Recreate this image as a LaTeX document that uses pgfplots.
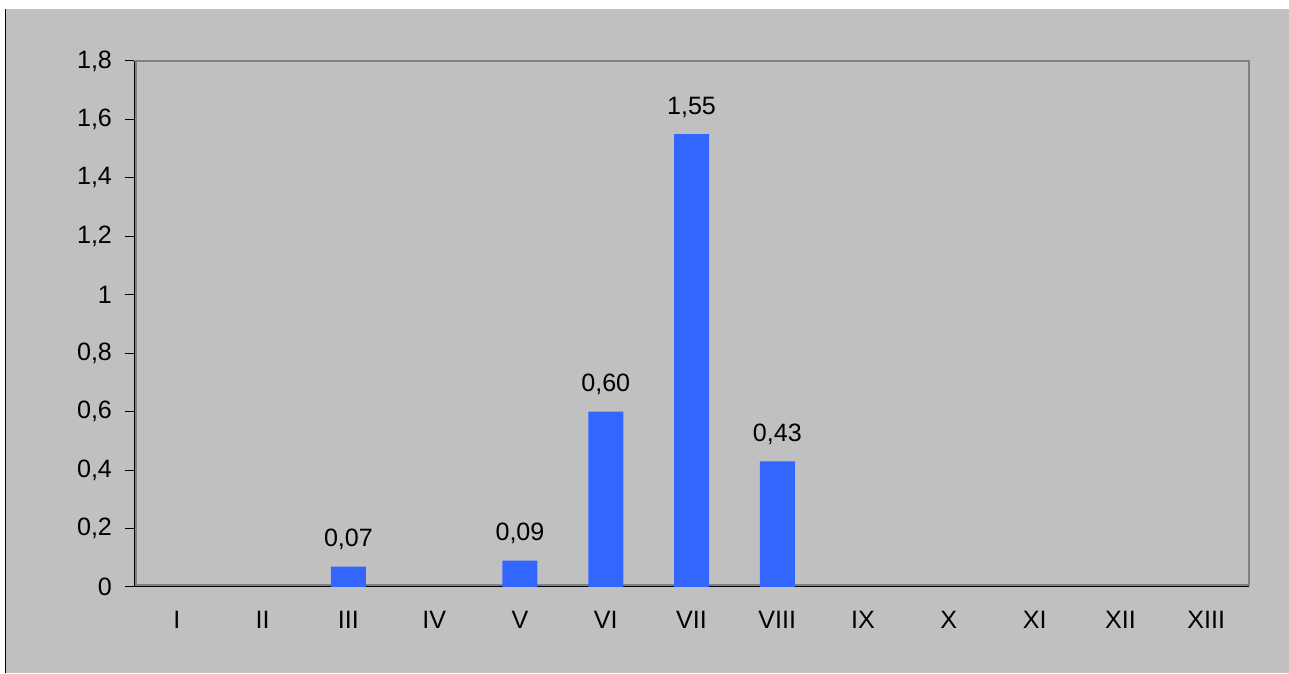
\documentclass[border=0pt]{standalone}
\usepackage{fontspec}
\setmainfont{Liberation Sans}
\usepackage{pgfplots}
\pgfplotsset{compat=1.18}
\definecolor{bgcol}{HTML}{C0C0C0}
\definecolor{barcol}{HTML}{3366FF}
\definecolor{framecol}{HTML}{808080}
\begin{document}
\begin{tikzpicture}[x=0.5bp,y=0.5bp]
% page and chart background
\useasboundingbox (0,0) rectangle (1289,673);
\fill[white] (0,0) rectangle (1289,673);
\fill[bgcol] (6,0) rectangle (1289,664);
\draw[black, line width=0.6bp] (5.5,0) -- (5.5,664);
\begin{axis}[
  at={(67bp,43bp)}, anchor=south west,
  scale only axis, width=557.5bp, height=263bp,
  xmin=0.5, xmax=13.5, ymin=0, ymax=1.8,
  axis x line*=bottom, axis y line*=left,
  axis line style={black, line width=0.5bp},
  x axis line style={-}, y axis line style={-},
  xtick={1,...,13},
  xticklabels={I,II,III,IV,V,VI,VII,VIII,IX,X,XI,XII,XIII},
  minor xtick={0.5,1.5,...,13.5},
  ytick={0,0.2,0.4,0.6,0.8,1,1.2,1.4,1.6,1.8},
  tick align=outside,
  major tick length=4.5bp, minor tick length=4bp,
  xtick style={draw=none},
  minor tick style={black, line width=0.5bp},
  ytick style={black, line width=0.5bp},
  tick label style={font=\fontsize{12.6}{15}\selectfont},
  yticklabel style={xshift=-3bp},
  xticklabel style={yshift=-4bp},
  /pgf/number format/.cd, use comma, fixed, 1000 sep={}, assume math mode=true,
  /pgfplots/.cd,
  ybar, bar width=17.5bp,
  nodes near coords={\pgfmathprintnumber[fixed,fixed zerofill,precision=2,use comma]{\pgfplotspointmeta}},
  every node near coord/.append style={anchor=base, yshift=10bp, font=\fontsize{12.6}{15}\selectfont, text=black},
  clip=false,
]
\draw[framecol, line width=1.2bp] ([xshift=1bp,yshift=1bp]rel axis cs:0,0) rectangle (rel axis cs:1,1);
\addplot[fill=barcol, draw=none] coordinates {
  (3,0.07) (5,0.09) (6,0.60) (7,1.55) (8,0.43)
};
\end{axis}
\end{tikzpicture}
\end{document}
